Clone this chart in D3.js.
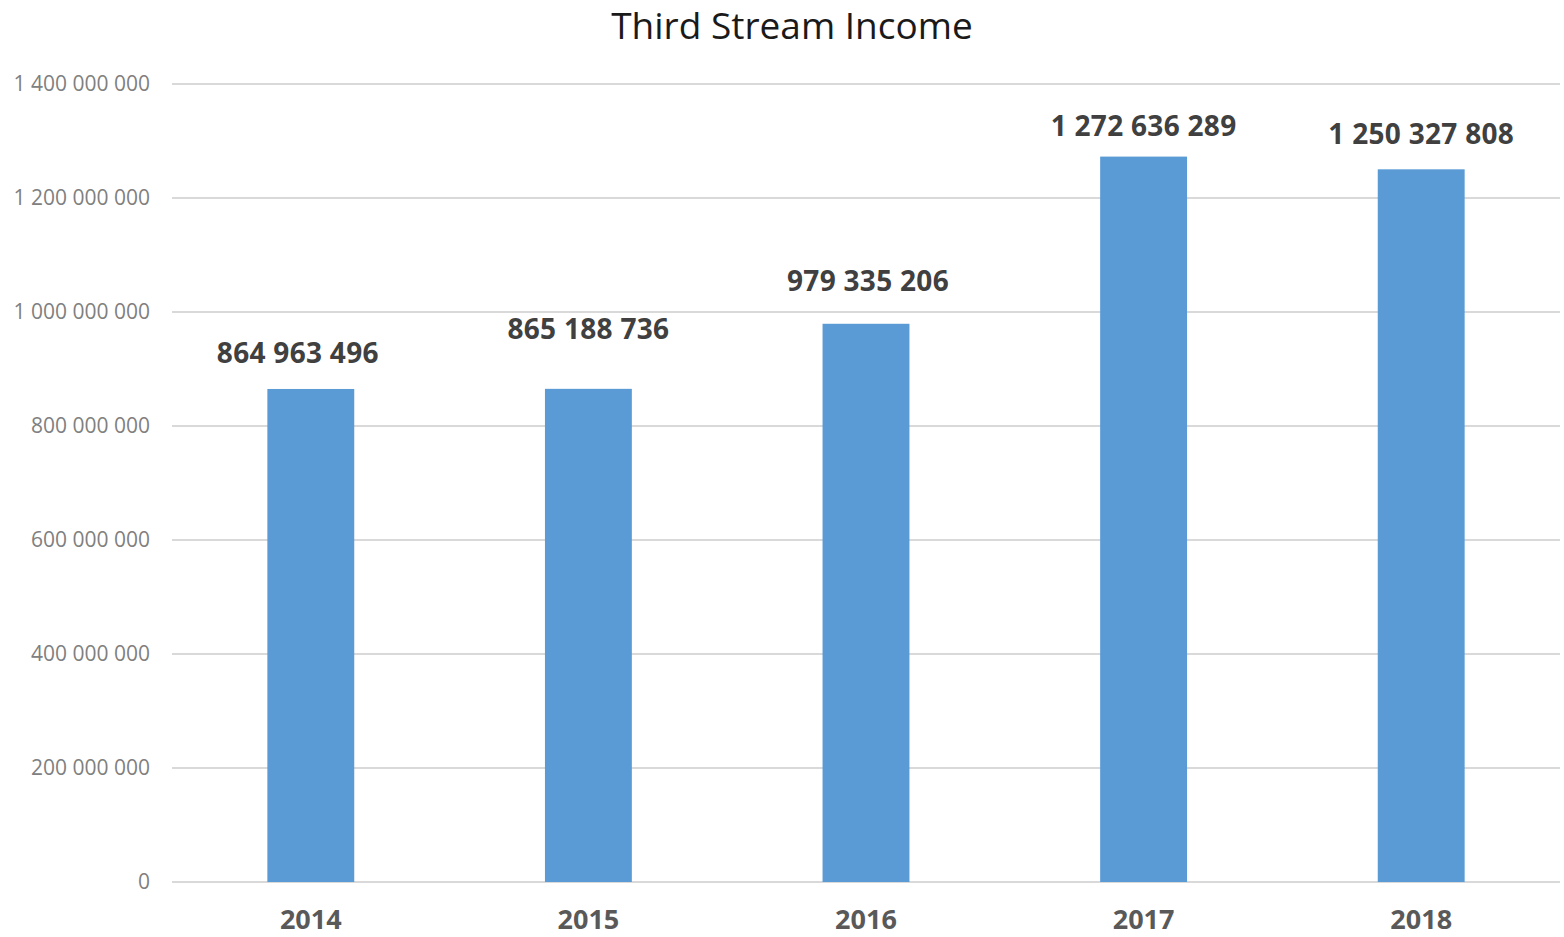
<!DOCTYPE html>
<html>

<head>
    <meta charset="utf-8">
    <title>Third Stream Income</title>
    <script src="https://d3js.org/d3.v7.min.js"></script>
    <style>
        body { margin: 0; background: #fff; }
    </style>
</head>

<body>
    <svg width="1564" height="937"></svg>
    <script>
        const years = ["2014", "2015", "2016", "2017", "2018"];
        const income = [864963496, 865188736, 979335206, 1272636289, 1250327808];
        const yTicks = [0, 200000000, 400000000, 600000000, 800000000, 1000000000, 1200000000, 1400000000];

        // labels were nudged by hand in the original, so each one sits a bit differently
        const labelLift = [36, 60, 43, 30, 35];
        const labelShift = [-13, 0, 2, 0, 0];

        const svg = d3.select("svg");
        const plotLeft = 172, plotRight = 1560, plotTop = 84, plotBottom = 882;

        const fmt = v => d3.format(",")(v).replace(/,/g, " ");

        const x = d3.scaleBand()
            .domain(years)
            .range([plotLeft, plotRight])
            .padding(0);

        const y = d3.scaleLinear()
            .domain([0, 1400000000])
            .range([plotBottom, plotTop]);

        const barW = x.bandwidth() * 0.313;

        // grid lines
        svg.append("g")
            .selectAll("line")
            .data(yTicks)
            .join("line")
            .attr("x1", plotLeft)
            .attr("x2", plotRight)
            .attr("y1", d => y(d))
            .attr("y2", d => y(d))
            .attr("stroke", "#d9d9d9")
            .attr("stroke-width", 2);

        // y tick labels
        svg.append("g")
            .selectAll("text")
            .data(yTicks)
            .join("text")
            .attr("x", 150)
            .attr("y", d => y(d))
            .attr("dy", "0.35em")
            .attr("text-anchor", "end")
            .attr("font-family", "Open Sans, sans-serif")
            .attr("font-size", 21)
            .attr("fill", "#808080")
            .text(d => fmt(d));

        // bars
        svg.append("g")
            .selectAll("rect")
            .data(income)
            .join("rect")
            .attr("x", (d, i) => x(years[i]) + x.bandwidth() / 2 - barW / 2)
            .attr("y", d => y(d))
            .attr("width", barW)
            .attr("height", d => plotBottom - y(d))
            .attr("fill", "#5b9bd5");

        // value labels
        svg.append("g")
            .selectAll("text")
            .data(income)
            .join("text")
            .attr("x", (d, i) => x(years[i]) + x.bandwidth() / 2 + labelShift[i])
            .attr("y", (d, i) => y(d) - labelLift[i])
            .attr("dy", "0.35em")
            .attr("text-anchor", "middle")
            .attr("font-family", "Open Sans, sans-serif")
            .attr("font-weight", "bold")
            .attr("font-size", 28)
            .attr("letter-spacing", 0.3)
            .attr("fill", "#404040")
            .text(d => fmt(d));

        // x labels
        svg.append("g")
            .selectAll("text")
            .data(years)
            .join("text")
            .attr("x", d => x(d) + x.bandwidth() / 2)
            .attr("y", 920)
            .attr("dy", "0.35em")
            .attr("text-anchor", "middle")
            .attr("font-family", "Open Sans, sans-serif")
            .attr("font-weight", "bold")
            .attr("font-size", 27)
            .attr("fill", "#595959")
            .text(d => d);

        svg.append("text")
            .attr("x", 792)
            .attr("y", 26)
            .attr("dy", "0.35em")
            .attr("text-anchor", "middle")
            .attr("font-family", "Open Sans, sans-serif")
            .attr("font-size", 37)
            .attr("fill", "#1a1a1a")
            .text("Third Stream Income");
    </script>
</body>

</html>
